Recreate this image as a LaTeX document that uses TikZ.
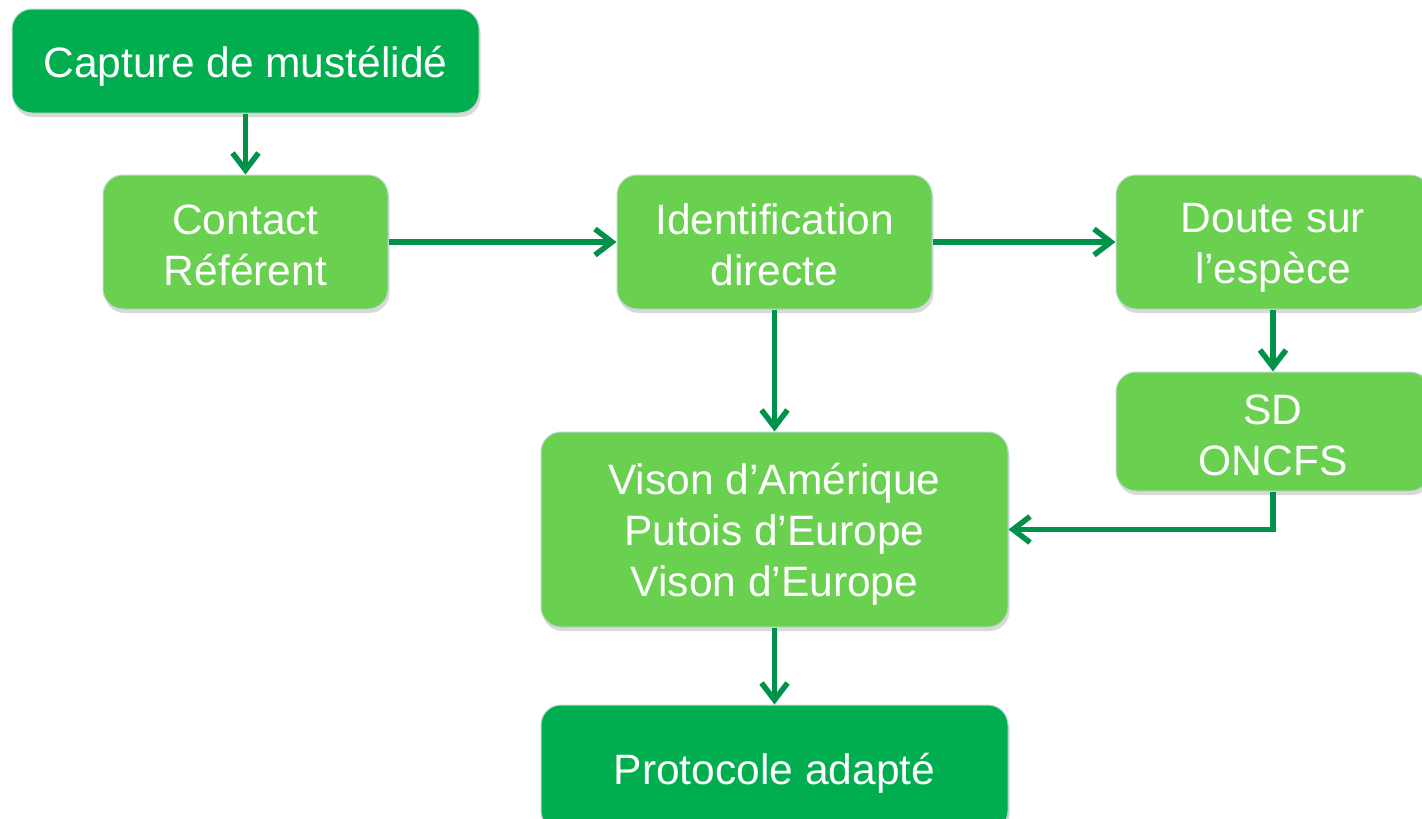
\documentclass[tikz,border=0pt]{standalone}
\usepackage{fontspec}
\setmainfont{Liberation Sans}
\usetikzlibrary{arrows.meta,shadows}
\definecolor{darkbox}{HTML}{00AE4F}
\definecolor{lightbox}{HTML}{6AD04F}
\definecolor{arrowgreen}{HTML}{00924A}
\definecolor{edgeline}{HTML}{B9D9D0}
\newcommand{\lstrut}{\rule[-5pt]{0pt}{46pt}}
\tikzset{
  box/.style={rounded corners=20pt, draw=edgeline, line width=1pt, text=white,
    align=center, inner sep=0pt, font=\fontsize{42.5}{51}\selectfont,
    drop shadow={shadow xshift=1.5pt, shadow yshift=-4pt, opacity=0.15, fill=black}},
  darkstep/.style={box, fill=darkbox},
  lightstep/.style={box, fill=lightbox},
  flow/.style={draw=arrowgreen, line width=5.5pt,
    -{Straight Barb[length=17pt,width=26pt,line width=5.5pt]}}
}
\begin{document}
\begin{tikzpicture}[x=1pt,y=-1pt]
\fill[white] (0,0) rectangle (1422,819);
\useasboundingbox (0,0) rectangle (1422,819);
\node[darkstep, minimum width=467pt, minimum height=104pt] (capture) at (245.5,61) {\lstrut Capture de mustélidé};
\node[lightstep, minimum width=285pt, minimum height=134pt] (contact) at (245.5,242) {\lstrut Contact\\\lstrut Référent};
\node[lightstep, minimum width=315pt, minimum height=134pt] (ident) at (774.5,242) {\lstrut Identification\\\lstrut directe};
\node[lightstep, minimum width=314pt, minimum height=134pt] (doute) at (1273,242) {\lstrut Doute sur\\\lstrut l’espèce};
\node[lightstep, minimum width=314pt, minimum height=119pt] (sd) at (1273,431.5) {\lstrut SD\\\lstrut ONCFS};
\node[lightstep, minimum width=467pt, minimum height=195pt] (vison) at (774.5,529.5) {\lstrut Vison d’Amérique\\\lstrut Putois d’Europe\\\lstrut Vison d’Europe};
\node[darkstep, minimum width=467pt, minimum height=126pt] (proto) at (774.5,768) {\lstrut Protocole adapté};
\draw[flow] (capture) -- (contact);
\draw[flow] (contact) -- (ident);
\draw[flow] (ident) -- (doute);
\draw[flow] (ident) -- (vison);
\draw[flow] (doute) -- (sd);
\draw[flow] (sd.south) |- (vison.east);
\draw[flow] (vison) -- (proto);
\end{tikzpicture}
\end{document}
